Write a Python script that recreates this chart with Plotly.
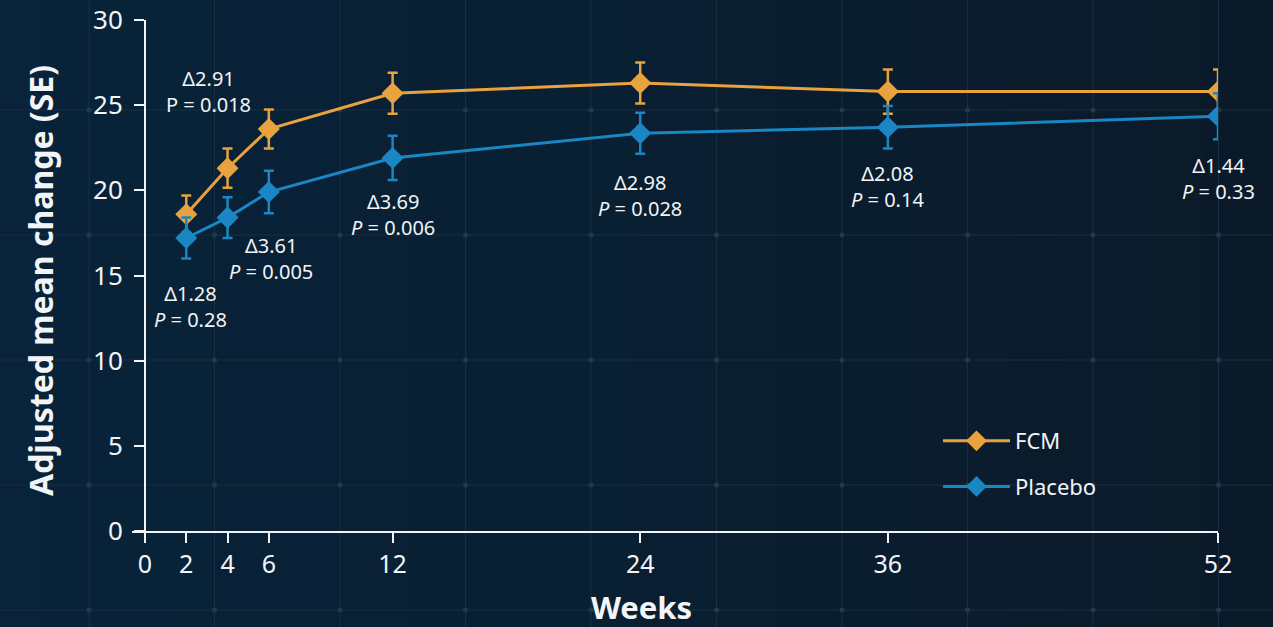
import numpy as np
import plotly.graph_objects as go

# ==========================================================
# DATA
# ==========================================================
weeks = [2, 4, 6, 12, 24, 36, 52]
fcm_mean = [18.6, 21.3, 23.6, 25.7, 26.3, 25.8, 25.8]
fcm_se = [1.1, 1.15, 1.15, 1.2, 1.2, 1.3, 1.3]
placebo_mean = [17.2, 18.4, 19.9, 21.9, 23.35, 23.7, 24.35]
placebo_se = [1.2, 1.2, 1.25, 1.3, 1.2, 1.25, 1.35]

deltas = ["Δ1.28", "Δ2.91", "Δ3.61", "Δ3.69", "Δ2.98", "Δ2.08", "Δ1.44"]
p_values = ["0.28", "0.018", "0.005", "0.006", "0.028", "0.14", "0.33"]
x_tickvals = [0, 2, 4, 6, 12, 24, 36, 52]
y_tickvals = [0, 5, 10, 15, 20, 25, 30]

# ==========================================================
# STYLE
# ==========================================================
W, H = 1273, 627
FONT = "Noto Sans"
ORANGE = "#E8A33E"
BLUE = "#1A86C3"
WHITE = "#F2F4F6"
GRID = "#182F42"

# pixel frame of the plot area
px_left, px_zero, px_right = 132, 145, 1218
px_top, px_bottom = 20, 531
x_min = -(px_zero - px_left) / (px_right - px_zero) * 52

# label placements (week x, value y) for each delta annotation
label_pos = [(2.2, 13.2), (3.1, 25.8), (6.1, 16.0), (12.0, 18.6), (24.0, 19.7), (36.0, 20.2), (52.0, 20.7)]

fig = go.Figure()

# ----------------------------------------------------------
# background: gradient + faint grid on a full-page subplot
# ----------------------------------------------------------
fig.add_trace(go.Heatmap(
    z=[[0, 1], [0, 1]], x=[0, W], y=[0, H],
    colorscale=[[0, "#08233A"], [1, "#0B1A29"]],
    zsmooth="best", showscale=False, hoverinfo="skip",
    xaxis="x", yaxis="y",
))
gx = np.arange(89, W, 125.5)
gy = np.arange(110 - 125, H, 125)
lx, ly = [], []
for v in gx:
    lx += [v, v, None]
    ly += [0, H, None]
for h in gy:
    lx += [0, W, None]
    ly += [h, h, None]
fig.add_trace(go.Scatter(
    x=lx, y=ly, mode="lines", line=dict(color=GRID, width=1),
    showlegend=False, hoverinfo="skip", xaxis="x", yaxis="y",
))
XX, YY = np.meshgrid(gx, gy)
fig.add_trace(go.Scatter(
    x=XX.ravel(), y=YY.ravel(), mode="markers",
    marker=dict(size=5, color="#223A4E"), showlegend=False,
    hoverinfo="skip", xaxis="x", yaxis="y",
))

# ----------------------------------------------------------
# series
# ----------------------------------------------------------
for name, mean, se, color in [("FCM", fcm_mean, fcm_se, ORANGE),
                              ("Placebo", placebo_mean, placebo_se, BLUE)]:
    fig.add_trace(go.Scatter(
        x=weeks, y=mean, name=name, mode="lines+markers",
        line=dict(color=color, width=3),
        marker=dict(symbol="diamond", size=17, color=color),
        error_y=dict(type="data", array=se, color=color, thickness=2.5, width=5),
        legendgroup=name,
        xaxis="x2", yaxis="y2",
    ))

# delta / P annotations
for i, (ax_, ay_) in enumerate(label_pos):
    p_txt = "P" if i == 1 else "<i>P</i>"
    fig.add_annotation(
        x=ax_, y=ay_, xref="x2", yref="y2",
        text=f"{deltas[i]}<br>{p_txt} = {p_values[i]}",
        showarrow=False, align="center",
        font=dict(family=FONT, size=20, color=WHITE),
    )

# axis titles
fig.add_annotation(
    x=40 / W, y=1 - 281 / H, xref="paper", yref="paper",
    xanchor="center", yanchor="middle",
    text="<b>Adjusted mean change (SE)</b>", textangle=-90, showarrow=False,
    font=dict(family=FONT, size=32, color=WHITE),
)
fig.add_annotation(
    x=641 / W, y=1 - 607 / H, xref="paper", yref="paper",
    xanchor="center", yanchor="middle",
    text="<b>Weeks</b>", showarrow=False,
    font=dict(family=FONT, size=31, color=WHITE),
)

# ----------------------------------------------------------
# layout
# ----------------------------------------------------------
fig.update_layout(
    width=W, height=H,
    margin=dict(l=0, r=0, t=0, b=0, autoexpand=False),
    paper_bgcolor="#0A1F33",
    plot_bgcolor="rgba(0,0,0,0)",
    font=dict(family=FONT, color=WHITE),
    showlegend=True,
    legend=dict(
        x=938 / W, y=1 - 420 / H, xanchor="left", yanchor="top",
        bgcolor="rgba(0,0,0,0)", font=dict(family=FONT, size=22, color=WHITE),
        tracegroupgap=14, itemwidth=67,
    ),
    # background subplot
    xaxis=dict(domain=[0, 1], range=[0, W], showgrid=False, zeroline=False,
               showticklabels=False, ticks="", fixedrange=True),
    yaxis=dict(domain=[0, 1], range=[H, 0], showgrid=False, zeroline=False,
               showticklabels=False, ticks="", fixedrange=True),
    # data subplot
    xaxis2=dict(
        domain=[px_left / W, px_right / W], range=[x_min, 52],
        anchor="y2", showgrid=False, zeroline=False,
        showline=True, linecolor=WHITE, linewidth=2,
        ticks="outside", ticklen=10, tickwidth=2, tickcolor=WHITE,
        tickvals=x_tickvals, tickfont=dict(family=FONT, size=25, color=WHITE),
    ),
    yaxis2=dict(
        domain=[1 - px_bottom / H, 1 - px_top / H], range=[0, 30],
        anchor="free", position=px_zero / W, showgrid=False, zeroline=False,
        showline=True, linecolor=WHITE, linewidth=2,
        ticks="outside", ticklen=10, tickwidth=2, tickcolor=WHITE,
        tickvals=y_tickvals, ticklabelstandoff=6,
        tickfont=dict(family=FONT, size=26, color=WHITE),
    ),
)

fig.write_html("out.html", config={"displayModeBar": False},
               post_script="document.body.style.margin='0';")
